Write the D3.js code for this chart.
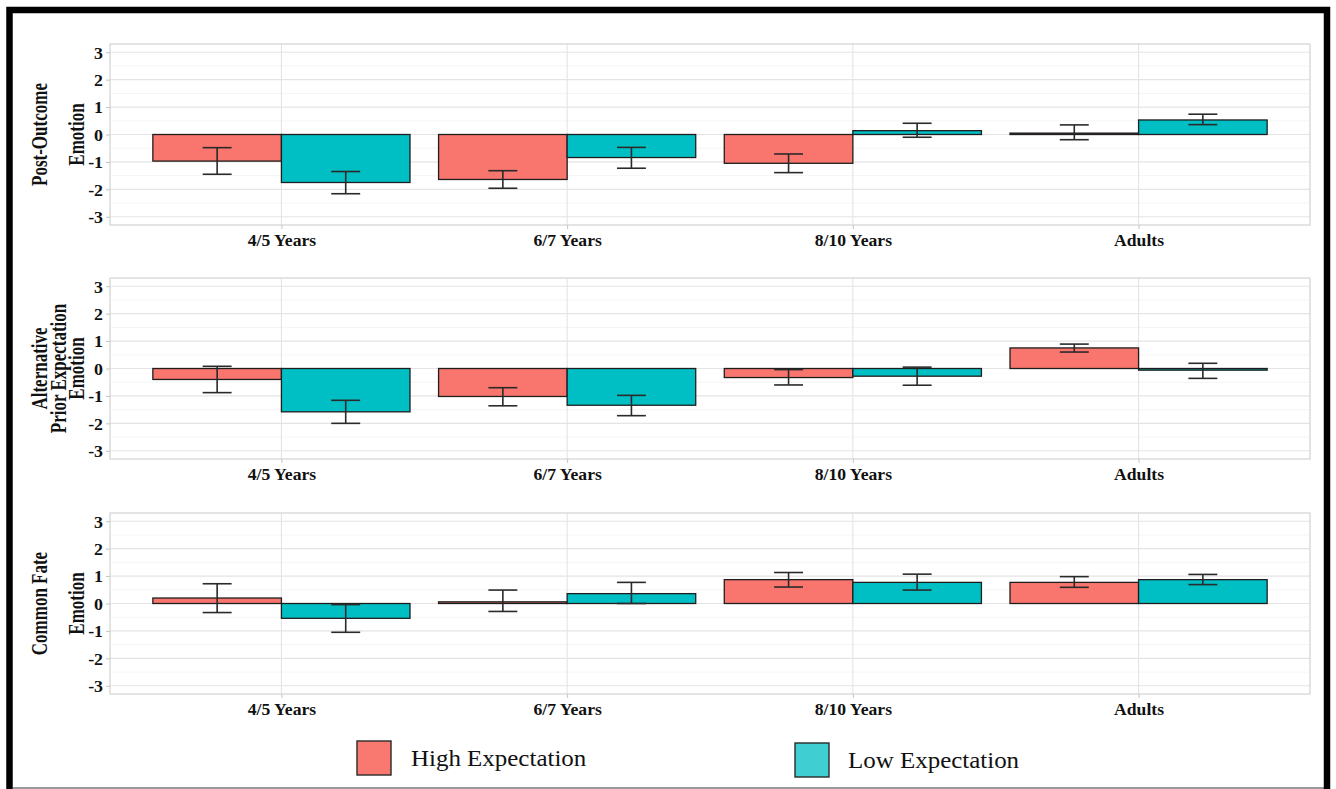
<!DOCTYPE html>
<html>
<head>
<meta charset="utf-8">
<script src="https://cdn.jsdelivr.net/npm/d3@7"></script>
<style>
  html, body { margin: 0; padding: 0; background: #fff; }
  svg { display: block; }
  text { font-family: "Liberation Serif", "Times New Roman", serif; fill: #111; }
</style>
</head>
<body>
<svg id="chart" width="1336" height="789"></svg>
<script>
// Age groups and expectation conditions
const categories = ["4/5 Years", "6/7 Years", "8/10 Years", "Adults"];
const groups = ["High Expectation", "Low Expectation"];
const yTicks = [-3, -2, -1, 0, 1, 2, 3];

// Post-outcome emotion: means and error-bar limits
const postHighMean  = [-0.97, -1.64, -1.05, 0.05];
const postHighLower = [-1.45, -1.96, -1.39, -0.19];
const postHighUpper = [-0.48, -1.32, -0.71, 0.35];
const postLowMean   = [-1.75, -0.84, 0.14, 0.53];
const postLowLower  = [-2.16, -1.23, -0.10, 0.36];
const postLowUpper  = [-1.35, -0.47, 0.41, 0.74];

// Alternative prior expectation emotion
const altHighMean  = [-0.40, -1.02, -0.33, 0.75];
const altHighLower = [-0.88, -1.36, -0.60, 0.60];
const altHighUpper = [0.08, -0.70, -0.04, 0.89];
const altLowMean   = [-1.58, -1.34, -0.28, -0.06];
const altLowLower  = [-2.00, -1.72, -0.61, -0.36];
const altLowUpper  = [-1.16, -0.98, 0.05, 0.19];

// Common fate emotion
const cfHighMean  = [0.20, 0.06, 0.87, 0.77];
const cfHighLower = [-0.33, -0.29, 0.60, 0.59];
const cfHighUpper = [0.72, 0.49, 1.13, 0.98];
const cfLowMean   = [-0.54, 0.36, 0.77, 0.87];
const cfLowLower  = [-1.05, 0.00, 0.49, 0.69];
const cfLowUpper  = [-0.04, 0.77, 1.07, 1.06];

const colors = { "High Expectation": "#F8766D", "Low Expectation": "#00BFC4" };
const legendColors = { "High Expectation": "#F9786F", "Low Expectation": "#3FCFD2" };

const serif = '"Liberation Serif", "Times New Roman", Times, serif';

function series(hm, hl, hu, lm, ll, lu) {
  const rows = [];
  categories.forEach((c, i) => {
    rows.push({ cat: c, grp: groups[0], mean: hm[i], lo: hl[i], hi: hu[i] });
    rows.push({ cat: c, grp: groups[1], mean: lm[i], lo: ll[i], hi: lu[i] });
  });
  return rows;
}

const panels = [
  { title: ["Post-Outcome", "Emotion"], titleX: [40, 77], top: 44, bottom: 225,
    rows: series(postHighMean, postHighLower, postHighUpper, postLowMean, postLowLower, postLowUpper) },
  { title: ["Alternative", "Prior Expectation", "Emotion"], titleX: [40, 59.5, 77.5], top: 278, bottom: 459,
    rows: series(altHighMean, altHighLower, altHighUpper, altLowMean, altLowLower, altLowUpper) },
  { title: ["Common Fate", "Emotion"], titleX: [40, 77], top: 513, bottom: 694,
    rows: series(cfHighMean, cfHighLower, cfHighUpper, cfLowMean, cfLowLower, cfLowUpper) }
];

const svg = d3.select("#chart");
const left = 110, right = 1310;

const x = d3.scalePoint().domain(categories).range([left, right]).padding(0.6);
const step = x.step();
const xDodge = d3.scaleBand().domain(groups).range([-0.45 * step, 0.45 * step]).padding(0);
const capW = xDodge.bandwidth() * 0.225;

panels.forEach(p => {
  const y = d3.scaleLinear().domain([-3.3, 3.3]).range([p.bottom, p.top]);
  const g = svg.append("g");

  // minor grid
  const minor = d3.range(-2.5, 3, 1);
  g.selectAll("line.minor").data(minor).join("line")
    .attr("x1", left).attr("x2", right)
    .attr("y1", d => y(d)).attr("y2", d => y(d))
    .attr("stroke", "#f1f1f1").attr("stroke-width", 0.8);
  // major grid
  g.selectAll("line.major").data(yTicks).join("line")
    .attr("x1", left).attr("x2", right)
    .attr("y1", d => y(d)).attr("y2", d => y(d))
    .attr("stroke", "#e4e4e4").attr("stroke-width", 1.1);
  g.selectAll("line.vmajor").data(categories).join("line")
    .attr("x1", d => x(d)).attr("x2", d => x(d))
    .attr("y1", p.top).attr("y2", p.bottom)
    .attr("stroke", "#e4e4e4").attr("stroke-width", 1.1);

  // bars
  g.selectAll("rect.bar").data(p.rows).join("rect")
    .attr("x", d => x(d.cat) + xDodge(d.grp))
    .attr("width", xDodge.bandwidth())
    .attr("y", d => Math.min(y(d.mean), y(0)))
    .attr("height", d => Math.abs(y(d.mean) - y(0)))
    .attr("fill", d => colors[d.grp])
    .attr("stroke", "#1e1e1e").attr("stroke-width", 1.3);

  // error bars
  const eb = g.selectAll("g.eb").data(p.rows).join("g")
    .attr("transform", d => `translate(${x(d.cat) + xDodge(d.grp) + xDodge.bandwidth() / 2},0)`)
    .attr("stroke", "#2a2a2a").attr("stroke-width", 1.6);
  eb.append("line").attr("x1", 0).attr("x2", 0).attr("y1", d => y(d.lo)).attr("y2", d => y(d.hi));
  eb.append("line").attr("x1", -capW / 2).attr("x2", capW / 2).attr("y1", d => y(d.lo)).attr("y2", d => y(d.lo));
  eb.append("line").attr("x1", -capW / 2).attr("x2", capW / 2).attr("y1", d => y(d.hi)).attr("y2", d => y(d.hi));

  // panel border
  g.append("rect").attr("x", left).attr("y", p.top)
    .attr("width", right - left).attr("height", p.bottom - p.top)
    .attr("fill", "none").attr("stroke", "#d6d6d6").attr("stroke-width", 1.3);

  // y axis
  const tsx = 1.05;
  const ya = g.append("g").attr("transform", `translate(${left},0)`)
    .call(d3.axisLeft(y).tickValues(yTicks).tickSize(4).tickPadding(3).tickFormat(d => String(d)));
  ya.select(".domain").remove();
  ya.selectAll(".tick line").attr("stroke", "#c4c4c4");
  ya.selectAll(".tick text")
    .attr("x", -7 / tsx).attr("dy", "0.34em").attr("transform", `scale(${tsx},1)`)
    .style("font-family", serif)
    .style("font-weight", "bold").style("font-size", "17px").attr("fill", "#111");

  // x axis
  const xsx = 1.07;
  const xa = g.append("g").attr("transform", `translate(0,${p.bottom})`)
    .call(d3.axisBottom(x).tickSize(4).tickPadding(5));
  xa.select(".domain").remove();
  xa.selectAll(".tick line").attr("stroke", "#c4c4c4");
  xa.selectAll(".tick text")
    .attr("transform", `scale(${xsx},1)`)
    .style("font-family", serif)
    .style("font-weight", "bold").style("font-size", "16.5px").attr("fill", "#111");

  // y title lines
  const cy = (p.top + p.bottom) / 2;
  p.title.forEach((t, i) => {
    svg.append("text")
      .attr("transform", `translate(${p.titleX[i]},${cy}) scale(1.3,1) rotate(-90)`)
      .attr("text-anchor", "middle").attr("dy", "0.3em")
      .style("font-family", serif)
      .style("font-weight", "bold").style("font-size", "17px")
      .text(t);
  });
});

// legend
const legendItems = [
  { grp: groups[0], bx: 357, by: 741, tx: 411 },
  { grp: groups[1], bx: 795, by: 743, tx: 848 }
];
const lg = svg.append("g");
legendItems.forEach(it => {
  lg.append("rect").attr("x", it.bx).attr("y", it.by).attr("width", 34).attr("height", 34)
    .attr("fill", legendColors[it.grp]).attr("stroke", "#2a2a2a").attr("stroke-width", 1.4);
  lg.append("text")
    .attr("transform", `translate(${it.tx},${it.by + 17}) scale(1.04,1)`)
    .attr("dy", "0.33em").style("font-family", serif)
    .style("font-size", "24px").attr("fill", "#1a1a1a")
    .text(it.grp);
});

// frame
svg.append("line").attr("x1", 13).attr("x2", 1324).attr("y1", 788).attr("y2", 788)
  .attr("stroke", "#9a9a9a").attr("stroke-width", 2);
svg.append("rect").attr("x", 9.5).attr("y", 10).attr("width", 1317.5).attr("height", 800)
  .attr("fill", "none").attr("stroke", "#000").attr("stroke-width", 6.5);
</script>
</body>
</html>
